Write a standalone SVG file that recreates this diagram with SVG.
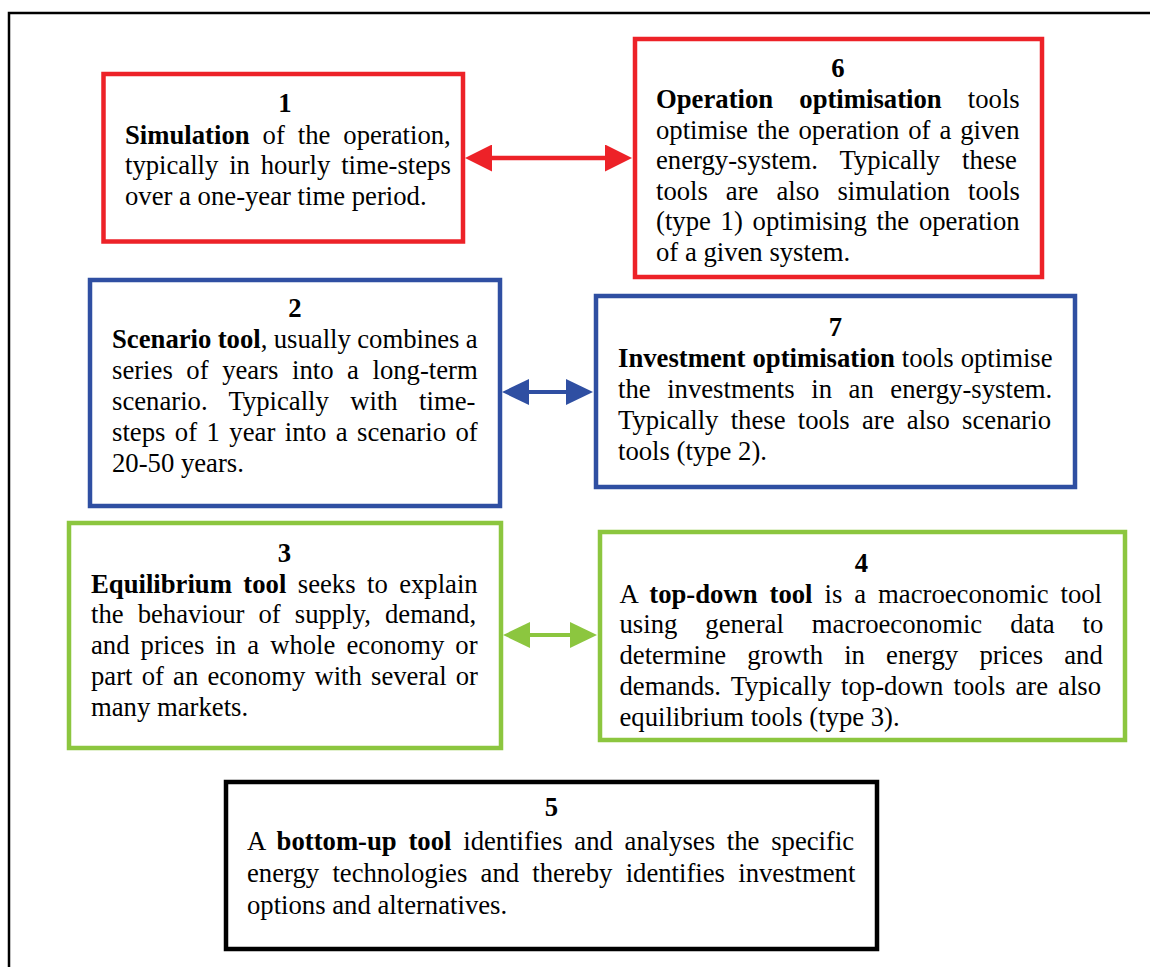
<svg xmlns="http://www.w3.org/2000/svg" width="1150" height="967" viewBox="0 0 1150 967">
  <style>
    .t { font-family: "Liberation Serif", "Times New Roman", serif; font-size: 26.7px; fill: #000; }
    .b { font-weight: bold; }
    .num { font-weight: bold; text-anchor: middle; }
    .box { fill: #fff; stroke-width: 4.5; }
    .red { stroke: #ED2228; }
    .blue { stroke: #2F4FA2; }
    .green { stroke: #8CC63F; }
    .black { stroke: #000; }
  </style>
  <defs>
    <marker id="headRed" markerUnits="userSpaceOnUse" markerWidth="27" markerHeight="27" viewBox="0 -13.5 27 27" refX="0" refY="0" orient="auto-start-reverse">
      <path d="M0,-13.5 L27,0 L0,13.5 z" fill="#ED2228"/>
    </marker>
    <marker id="headBlue" markerUnits="userSpaceOnUse" markerWidth="27" markerHeight="26" viewBox="0 -13 27 26" refX="0" refY="0" orient="auto-start-reverse">
      <path d="M0,-13 L27,0 L0,13 z" fill="#2F4FA2"/>
    </marker>
    <marker id="headGreen" markerUnits="userSpaceOnUse" markerWidth="27" markerHeight="26" viewBox="0 -13 27 26" refX="0" refY="0" orient="auto-start-reverse">
      <path d="M0,-13 L27,0 L0,13 z" fill="#8CC63F"/>
    </marker>
  </defs>

  <rect width="1150" height="967" fill="#fff"/>
  <!-- outer frame (top and left edges) -->
  <path d="M9,967 V13 H1150" fill="none" stroke="#000" stroke-width="2.5"/>

  <!-- 1: simulation -->
  <g id="node1">
    <rect class="box red" x="103.5" y="74" width="359.5" height="167.5"/>
    <text class="t num" x="285" y="112">1</text>
    <text class="t" x="125" y="143.5" word-spacing="6.3"><tspan class="b">Simulation</tspan> of the operation,</text>
    <text class="t" x="125" y="174" word-spacing="4.1">typically in hourly time-steps</text>
    <text class="t" x="125" y="204.5">over a one-year time period.</text>
  </g>

  <!-- 6: operation optimisation -->
  <g id="node6">
    <rect class="box red" x="635" y="39" width="407" height="238"/>
    <text class="t num" x="838" y="77">6</text>
    <text class="t" x="656" y="108" word-spacing="19.5"><tspan class="b">Operation optimisation</tspan> tools</text>
    <text class="t" x="656" y="138.5" word-spacing="2.3">optimise the operation of a given</text>
    <text class="t" x="656" y="169" word-spacing="15.5">energy-system. Typically these</text>
    <text class="t" x="656" y="199.5" word-spacing="11.3">tools are also simulation tools</text>
    <text class="t" x="656" y="230" word-spacing="3.1">(type 1) optimising the operation</text>
    <text class="t" x="656" y="260.5">of a given system.</text>
  </g>

  <!-- 2: scenario tool -->
  <g id="node2">
    <rect class="box blue" x="90" y="280" width="410" height="226"/>
    <text class="t num" x="295" y="317">2</text>
    <text class="t" x="112" y="348" word-spacing="-0.3"><tspan class="b">Scenario tool</tspan>, usually combines a</text>
    <text class="t" x="112" y="379" word-spacing="6.9">series of years into a long-term</text>
    <text class="t" x="112" y="410" word-spacing="14.7">scenario. Typically with time-</text>
    <text class="t" x="112" y="441" word-spacing="2.8">steps of 1 year into a scenario of</text>
    <text class="t" x="112" y="472">20-50 years.</text>
  </g>

  <!-- 7: investment optimisation -->
  <g id="node7">
    <rect class="box blue" x="596" y="296" width="479" height="191"/>
    <text class="t num" x="835.5" y="336">7</text>
    <text class="t" x="618" y="367" word-spacing="0.3"><tspan class="b">Investment optimisation</tspan> tools optimise</text>
    <text class="t" x="618" y="398" word-spacing="9.9">the investments in an energy-system.</text>
    <text class="t" x="618" y="429" word-spacing="5.6">Typically these tools are also scenario</text>
    <text class="t" x="618" y="460">tools (type 2).</text>
  </g>

  <!-- 3: equilibrium tool -->
  <g id="node3">
    <rect class="box green" x="69" y="523" width="432" height="225"/>
    <text class="t num" x="284.5" y="562">3</text>
    <text class="t" x="91" y="592.5" word-spacing="4.75"><tspan class="b">Equilibrium tool</tspan> seeks to explain</text>
    <text class="t" x="91" y="623" word-spacing="7.4">the behaviour of supply, demand,</text>
    <text class="t" x="91" y="654" word-spacing="4.4">and prices in a whole economy or</text>
    <text class="t" x="91" y="685" word-spacing="2.5">part of an economy with several or</text>
    <text class="t" x="91" y="716">many markets.</text>
  </g>

  <!-- 4: top-down tool -->
  <g id="node4">
    <rect class="box green" x="600" y="532" width="525" height="208"/>
    <text class="t num" x="861.5" y="572">4</text>
    <text class="t" x="619.5" y="602.5" word-spacing="5.3">A <tspan class="b">top-down tool</tspan> is a macroeconomic tool</text>
    <text class="t" x="619.5" y="633" word-spacing="21.3">using general macroeconomic data to</text>
    <text class="t" x="619.5" y="664" word-spacing="14.5">determine growth in energy prices and</text>
    <text class="t" x="619.5" y="695" word-spacing="3.4">demands. Typically top-down tools are also</text>
    <text class="t" x="619.5" y="726">equilibrium tools (type 3).</text>
  </g>

  <!-- 5: bottom-up tool -->
  <g id="node5">
    <rect class="box black" x="226" y="782" width="651" height="167"/>
    <text class="t num" x="551.5" y="816">5</text>
    <text class="t" x="247" y="850" word-spacing="5.1">A <tspan class="b">bottom-up tool</tspan> identifies and analyses the specific</text>
    <text class="t" x="247" y="882" word-spacing="6.6">energy technologies and thereby identifies investment</text>
    <text class="t" x="247" y="913.5">options and alternatives.</text>
  </g>

  <!-- double-headed connectors -->
  <g id="connectors" fill="none">
    <line x1="492" y1="158" x2="605" y2="158" stroke="#ED2228" stroke-width="4.5" marker-start="url(#headRed)" marker-end="url(#headRed)"/>
    <line x1="529" y1="392" x2="566" y2="392" stroke="#2F4FA2" stroke-width="4" marker-start="url(#headBlue)" marker-end="url(#headBlue)"/>
    <line x1="530" y1="635" x2="570" y2="635" stroke="#8CC63F" stroke-width="4" marker-start="url(#headGreen)" marker-end="url(#headGreen)"/>
  </g>
</svg>
